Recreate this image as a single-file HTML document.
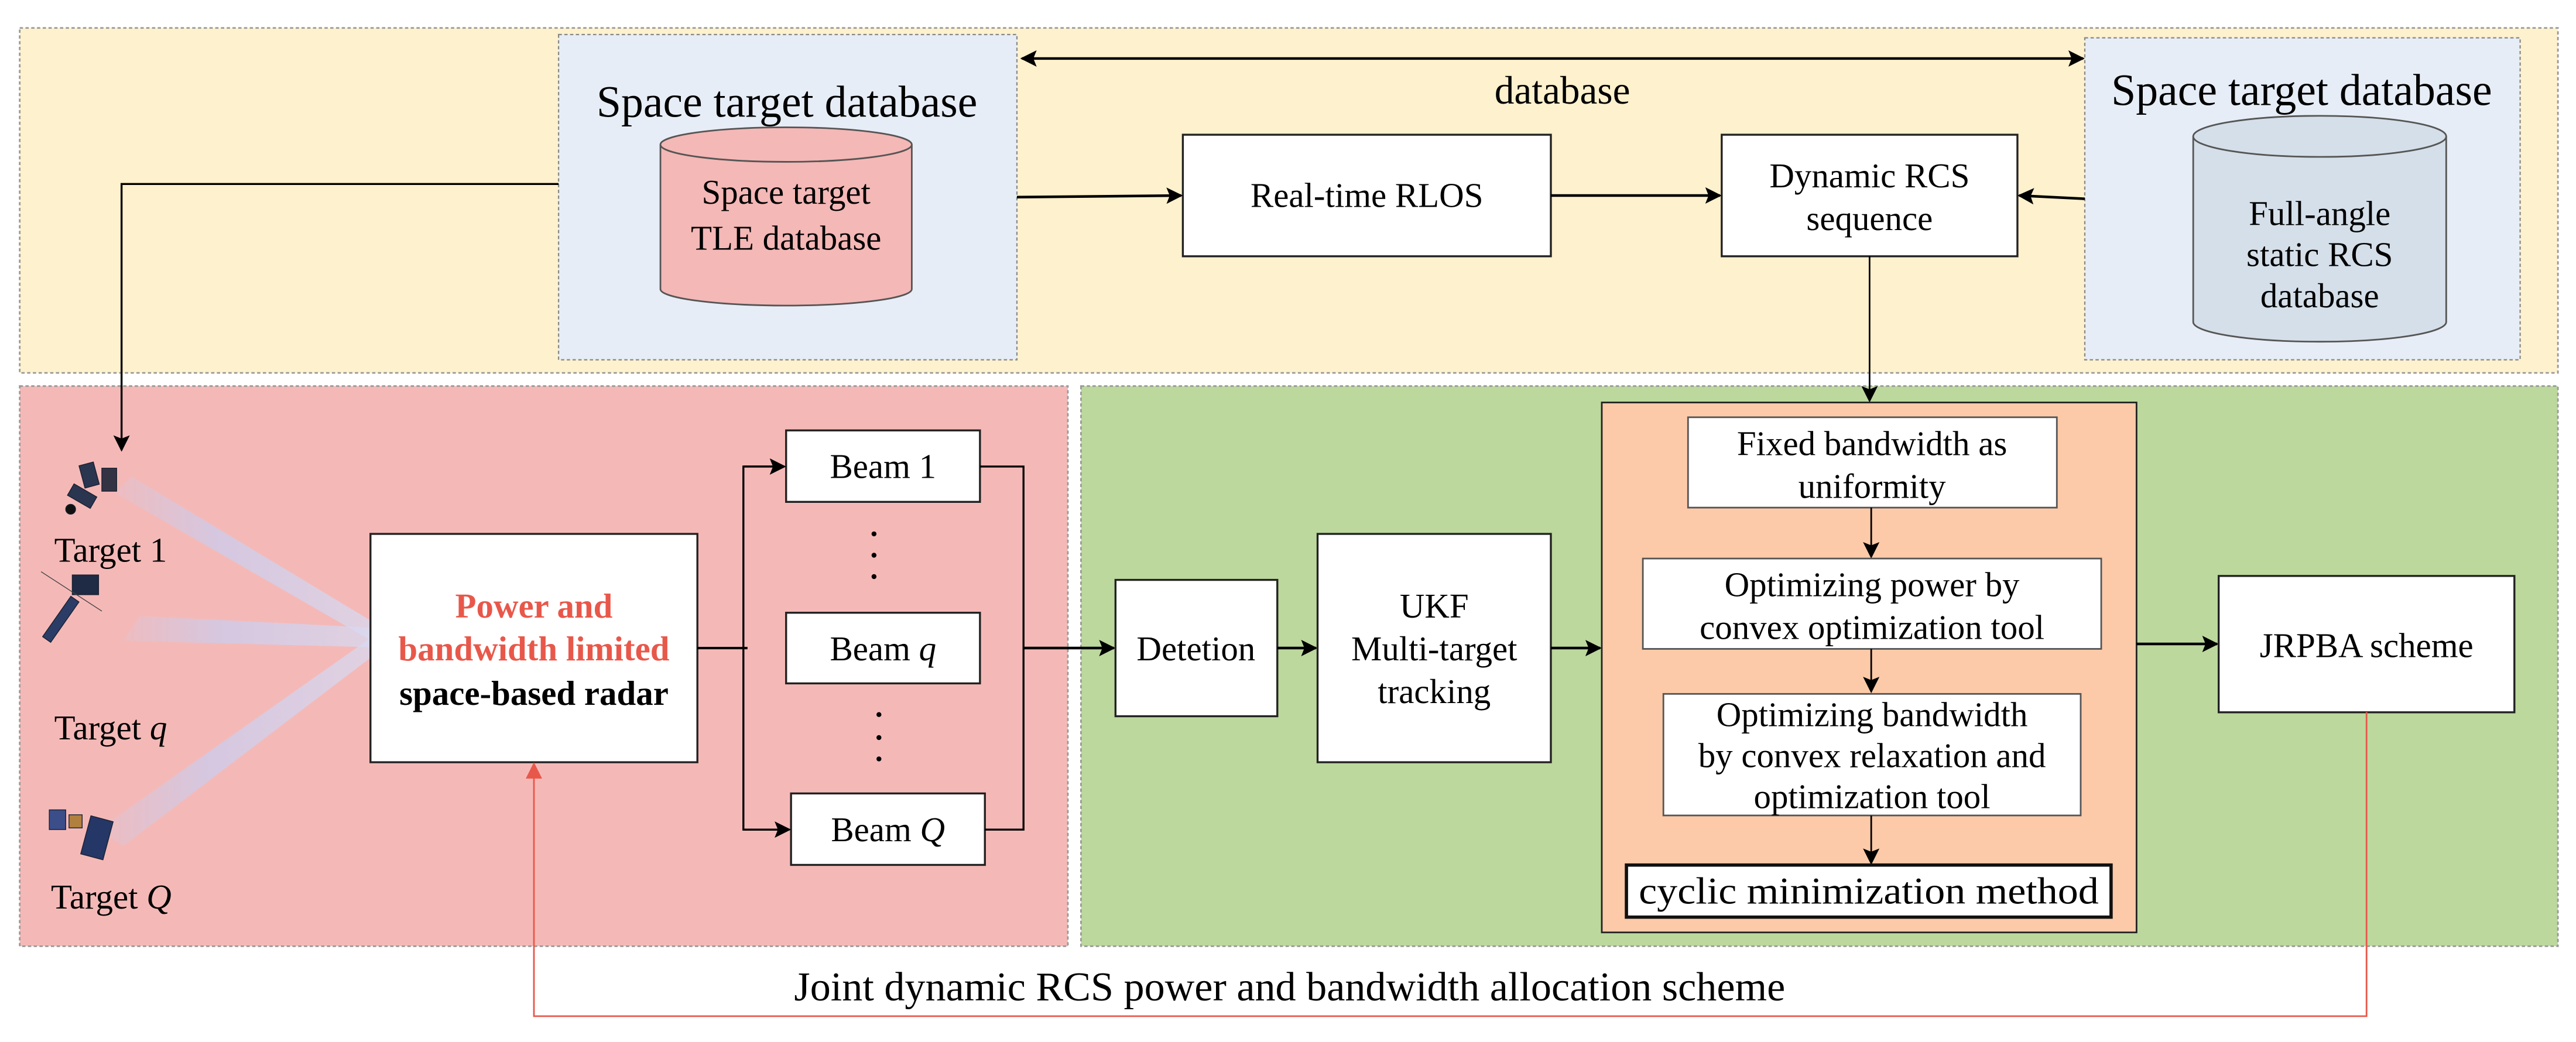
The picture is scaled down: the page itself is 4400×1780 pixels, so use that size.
<!DOCTYPE html>
<html><head><meta charset="utf-8"><style>html,body{margin:0;padding:0;background:#fff}svg{display:block}</style></head>
<body>
<svg xmlns="http://www.w3.org/2000/svg" width="4400" height="1780" viewBox="0 0 1568 634.3" font-family="'Liberation Serif', serif">
<defs>
<marker id="a" markerWidth="10" markerHeight="10" refX="9" refY="5" orient="auto" markerUnits="userSpaceOnUse"><path d="M0,0 L10,5 L0,10 L2,5 Z" fill="#000"/></marker>
<marker id="as" markerWidth="10" markerHeight="10" refX="1" refY="5" orient="auto" markerUnits="userSpaceOnUse"><path d="M10,0 L0,5 L10,10 L8,5 Z" fill="#000"/></marker>
<marker id="ar" markerWidth="10" markerHeight="12" refX="9" refY="5" orient="auto" markerUnits="userSpaceOnUse"><path d="M0,0 L10,5 L0,10 Z" fill="#E8584A"/></marker>
<linearGradient id="bm" x1="0" x2="1"><stop offset="0" stop-color="#c9cdf0" stop-opacity="0.2"/><stop offset="0.4" stop-color="#c9cdf0" stop-opacity="0.9"/><stop offset="1" stop-color="#d8daf2" stop-opacity="0.9"/></linearGradient>
</defs>
<rect x="12" y="17" width="1545" height="210" fill="#FEF1CD" stroke="#999" stroke-width="1" stroke-dasharray="2,1.5"/>
<rect x="12" y="235" width="638" height="341" fill="#F4B9B7" stroke="#999" stroke-width="1" stroke-dasharray="2,1.5"/>
<rect x="658" y="235" width="899" height="341" fill="#BCD89D" stroke="#999" stroke-width="1" stroke-dasharray="2,1.5"/>
<rect x="340" y="21" width="279" height="198" fill="#E7EDF6" stroke="#888" stroke-width="0.8" stroke-dasharray="2,1.5"/>
<text x="479" y="71" font-size="27" text-anchor="middle">Space target database</text>
<path d="M402,88 L402,176 A76.5,10 0 0 0 555,176 L555,88" fill="#F4B8B6" stroke="#555" stroke-width="1"/>
<ellipse cx="478.5" cy="88" rx="76.5" ry="10.5" fill="#F4B8B6" stroke="#555" stroke-width="1"/>
<text x="478.5" y="124" font-size="21" text-anchor="middle">Space target</text>
<text x="478.5" y="152" font-size="21" text-anchor="middle">TLE database</text>
<rect x="1269" y="23" width="265" height="196" fill="#E7EDF6" stroke="#888" stroke-width="0.8" stroke-dasharray="2,1.5"/>
<text x="1401" y="64" font-size="27" text-anchor="middle">Space target database</text>
<path d="M1335,83 L1335,196 A77,12 0 0 0 1489,196 L1489,83" fill="#D5DFE9" stroke="#555" stroke-width="1"/>
<ellipse cx="1412" cy="83" rx="77" ry="12.5" fill="#D5DFE9" stroke="#555" stroke-width="1"/>
<text x="1412" y="137" font-size="21" text-anchor="middle">Full-angle</text>
<text x="1412" y="162" font-size="21" text-anchor="middle">static RCS</text>
<text x="1412" y="187" font-size="21" text-anchor="middle">database</text>
<line x1="622" y1="35.6" x2="1268" y2="35.6" stroke="#000" stroke-width="1.6" marker-start="url(#as)" marker-end="url(#a)"/>
<text x="951" y="63" font-size="24" text-anchor="middle">database</text>
<rect x="720" y="82" width="224" height="74" fill="#fff" stroke="#222" stroke-width="1.2"/>
<text x="832" y="126" font-size="21" text-anchor="middle">Real-time RLOS</text>
<rect x="1048" y="82" width="180" height="74" fill="#fff" stroke="#222" stroke-width="1.2"/>
<text x="1138" y="114" font-size="21" text-anchor="middle">Dynamic RCS</text>
<text x="1138" y="140" font-size="21" text-anchor="middle">sequence</text>
<line x1="619" y1="120" x2="719" y2="119" stroke="#000" stroke-width="1.6" marker-end="url(#a)"/>
<line x1="944" y1="119" x2="1047" y2="119" stroke="#000" stroke-width="1.6" marker-end="url(#a)"/>
<line x1="1269" y1="121" x2="1229" y2="119" stroke="#000" stroke-width="1.6" marker-end="url(#a)"/>
<line x1="1138" y1="156" x2="1138" y2="244" stroke="#000" stroke-width="1" marker-end="url(#a)"/>
<polyline points="340,112 74,112 74,274" fill="none" stroke="#000" stroke-width="1.2" marker-end="url(#a)"/>
<polygon points="70,300 80,290 226,378 226,390" fill="url(#bm)" opacity="0.8"/>
<polygon points="75,390 85,375 226,382 226,394" fill="url(#bm)" opacity="0.8"/>
<polygon points="60,505 75,515 226,400 226,388" fill="url(#bm)" opacity="0.8"/>
<g fill="#2a3550" stroke="#1a2030" stroke-width="0.5">
<rect x="50" y="282" width="9" height="14" transform="rotate(-15 55 290)"/><rect x="62" y="285" width="9" height="14" fill="#334"/>
<rect x="42" y="298" width="16" height="8" transform="rotate(30 50 302)"/>
<circle cx="43" cy="310" r="3" fill="#111"/>
<rect x="34" y="362" width="6" height="30" transform="rotate(35 37 377)" fill="#2b3d66"/>
<rect x="44" y="350" width="16" height="12" fill="#1f2a44"/>
<line x1="25" y1="348" x2="62" y2="372" stroke="#444"/>
<rect x="30" y="493" width="10" height="12" fill="#3b4e8a"/><rect x="42" y="496" width="8" height="8" fill="#b08040"/>
<rect x="52" y="498" width="14" height="24" transform="rotate(15 59 510)" fill="#243766"/>
</g>
<text x="33" y="342" font-size="21">Target 1</text>
<text x="33" y="450" font-size="21">Target <tspan font-style="italic">q</tspan></text>
<text x="31" y="553" font-size="21">Target <tspan font-style="italic">Q</tspan></text>
<rect x="225.5" y="325" width="199" height="139" fill="#fff" stroke="#222" stroke-width="1.2"/>
<text x="325" y="376" font-size="21" font-weight="bold" fill="#E8584A" text-anchor="middle">Power and</text>
<text x="325" y="402" font-size="21" font-weight="bold" fill="#E8584A" text-anchor="middle">bandwidth limited</text>
<text x="325" y="429" font-size="21" font-weight="bold" text-anchor="middle">space-based radar</text>
<rect x="478.5" y="262" width="118" height="43.5" fill="#fff" stroke="#222" stroke-width="1.2"/>
<text x="537.5" y="291" font-size="21" text-anchor="middle">Beam 1</text>
<rect x="478.5" y="373" width="118" height="43" fill="#fff" stroke="#222" stroke-width="1.2"/>
<text x="537.5" y="402" font-size="21" text-anchor="middle">Beam <tspan font-style="italic">q</tspan></text>
<rect x="481.5" y="483" width="118" height="43.5" fill="#fff" stroke="#222" stroke-width="1.2"/>
<text x="540.5" y="512" font-size="21" text-anchor="middle">Beam <tspan font-style="italic">Q</tspan></text>
<g fill="#000"><circle cx="532" cy="325" r="1.5"/><circle cx="532" cy="338" r="1.5"/><circle cx="532" cy="351" r="1.5"/>
<circle cx="535" cy="435" r="1.5"/><circle cx="535" cy="449" r="1.5"/><circle cx="535" cy="462" r="1.5"/></g>
<line x1="424.5" y1="394.5" x2="455" y2="394.5" stroke="#000" stroke-width="1.5"/>
<polyline points="477,284 452.5,284 452.5,505 480,505" fill="none" stroke="#000" stroke-width="1.2"/>
<line x1="452.5" y1="284" x2="477.5" y2="284" stroke="#000" stroke-width="1.2" marker-end="url(#a)"/>
<line x1="452.5" y1="505" x2="480.5" y2="505" stroke="#000" stroke-width="1.2" marker-end="url(#a)"/>
<polyline points="596.5,284 623,284 623,505 599.5,505" fill="none" stroke="#000" stroke-width="1.2"/>
<line x1="623" y1="394.5" x2="678" y2="394.5" stroke="#000" stroke-width="1.6" marker-end="url(#a)"/>
<rect x="679" y="353" width="98.5" height="83" fill="#fff" stroke="#222" stroke-width="1.2"/>
<text x="728" y="402" font-size="21" text-anchor="middle">Detetion</text>
<line x1="777.5" y1="394.5" x2="801" y2="394.5" stroke="#000" stroke-width="1.6" marker-end="url(#a)"/>
<rect x="802" y="325" width="142" height="139" fill="#fff" stroke="#222" stroke-width="1.2"/>
<text x="873" y="376" font-size="21" text-anchor="middle">UKF</text>
<text x="873" y="402" font-size="21" text-anchor="middle">Multi-target</text>
<text x="873" y="428" font-size="21" text-anchor="middle">tracking</text>
<line x1="944" y1="394.5" x2="974" y2="394.5" stroke="#000" stroke-width="1.6" marker-end="url(#a)"/>
<rect x="975" y="245" width="325.5" height="322.6" fill="#FCCAA8" stroke="#222" stroke-width="1"/>
<rect x="1027.5" y="254" width="224.5" height="55" fill="#fff" stroke="#555" stroke-width="1"/>
<text x="1139.5" y="277" font-size="21" text-anchor="middle">Fixed bandwidth as</text>
<text x="1139.5" y="303" font-size="21" text-anchor="middle">uniformity</text>
<line x1="1139" y1="309" x2="1139" y2="339" stroke="#000" stroke-width="1" marker-end="url(#a)"/>
<rect x="1000" y="340" width="279" height="55" fill="#fff" stroke="#555" stroke-width="1"/>
<text x="1139.5" y="363" font-size="21" text-anchor="middle">Optimizing power by</text>
<text x="1139.5" y="389" font-size="21" text-anchor="middle">convex  optimization tool</text>
<line x1="1139" y1="395" x2="1139" y2="421" stroke="#000" stroke-width="1" marker-end="url(#a)"/>
<rect x="1012.5" y="422.4" width="254" height="74" fill="#fff" stroke="#555" stroke-width="1"/>
<text x="1139.5" y="442" font-size="21" text-anchor="middle">Optimizing bandwidth</text>
<text x="1139.5" y="467" font-size="21" text-anchor="middle">by convex relaxation and</text>
<text x="1139.5" y="492" font-size="21" text-anchor="middle">optimization tool</text>
<line x1="1139" y1="496.5" x2="1139" y2="525.5" stroke="#000" stroke-width="1" marker-end="url(#a)"/>
<rect x="990" y="526.6" width="295" height="31.7" fill="#fff" stroke="#111" stroke-width="2"/>
<text x="1137.5" y="550" font-size="23" text-anchor="middle" textLength="280" lengthAdjust="spacingAndGlyphs">cyclic minimization method</text>
<line x1="1300.5" y1="392" x2="1349.5" y2="392" stroke="#000" stroke-width="1.6" marker-end="url(#a)"/>
<rect x="1350.5" y="350.6" width="180" height="83" fill="#fff" stroke="#222" stroke-width="1.2"/>
<text x="1440.5" y="400" font-size="21" text-anchor="middle">JRPBA scheme</text>
<polyline points="1440.5,433.5 1440.5,618.6 325,618.6 325,465" fill="none" stroke="#E8584A" stroke-width="1" marker-end="url(#ar)"/>
<text x="785" y="609" font-size="25" text-anchor="middle">Joint dynamic RCS power and bandwidth allocation scheme</text>
</svg>
</body></html>
